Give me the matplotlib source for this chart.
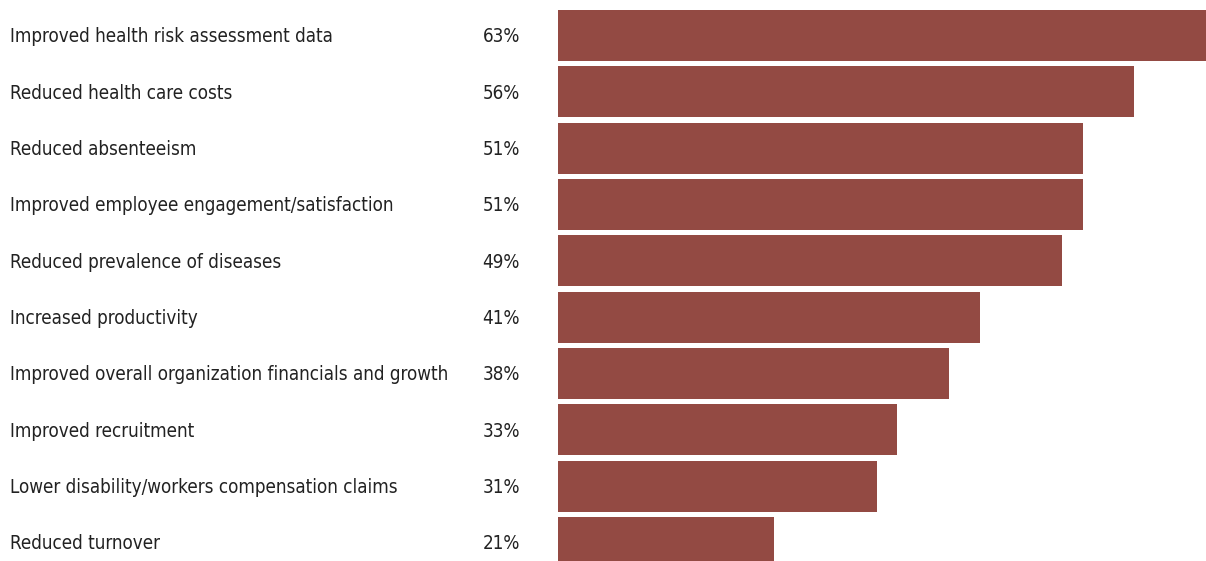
import matplotlib
matplotlib.use("Agg")
import matplotlib.pyplot as plt
from matplotlib import font_manager

categories = [
    "Improved health risk assessment data",
    "Reduced health care costs",
    "Reduced absenteeism",
    "Improved employee engagement/satisfaction",
    "Reduced prevalence of diseases",
    "Increased productivity",
    "Improved overall organization financials and growth",
    "Improved recruitment",
    "Lower disability/workers compensation claims",
    "Reduced turnover",
]
values = [63, 56, 51, 51, 49, 41, 38, 33, 31, 21]

plt.rcParams["font.family"] = ["DejaVu Sans"]

W, H = 1206, 561
fig = plt.figure(figsize=(W / 100, H / 100), dpi=100)
ax = fig.add_axes([558 / W, 0, (W - 558) / W, 1])

pitch = 56.33
ax.barh(range(len(values)), values, height=51 / pitch, color="#934A43", align="center")
ax.set_xlim(0, 63)
ax.set_ylim((H - 35.5) / pitch, -35.5 / pitch)
ax.axis("off")

for i, (lab, v) in enumerate(zip(categories, values)):
    ypix = H - (37 + pitch * i)
    fig.text(10 / W, ypix / H, lab, ha="left", va="center", fontsize=13.5,
             fontstretch="condensed", color="#222222")
    fig.text(520 / W, ypix / H, f"{v}%", ha="right", va="center", fontsize=13.5,
             fontstretch="condensed", color="#222222")

fig.savefig("out.png", dpi=100)
